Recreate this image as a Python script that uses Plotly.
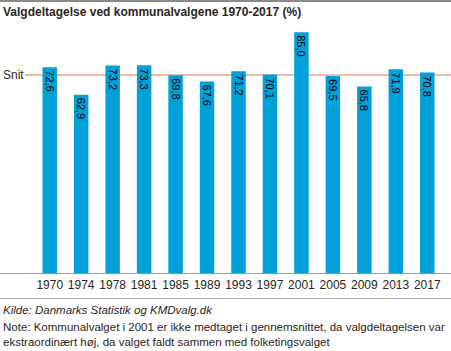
import plotly.graph_objects as go

years = ["1970", "1974", "1978", "1981", "1985", "1989", "1993", "1997", "2001", "2005", "2009", "2013", "2017"]
turnout = [72.6, 62.9, 73.2, 73.3, 69.8, 67.6, 71.2, 70.1, 85.0, 69.5, 65.8, 71.9, 70.8]
snit = 69.9

W, H = 451, 351
ML, MR, MT, MB = 34, 8, 18, 78
PW = W - ML - MR
PH = H - MT - MB

def px_x(x):
    return (x - ML) / PW

def px_y(y):
    return (H - MB - y) / PH

labels = [f"{v:.1f}".replace(".", ",") for v in turnout]
txt = "#2d2520"
font = "Liberation Sans, Arial, sans-serif"

fig = go.Figure(go.Bar(
    x=years, y=turnout, text=labels,
    marker=dict(color="#00a0d8", line=dict(width=0)),
    textposition="inside", insidetextanchor="end", textangle=90,
    constraintext="none",
    textfont=dict(size=11, color="#000000", family=font),
    hoverinfo="skip",
))

shapes = [
    dict(type="line", xref="paper", yref="paper", x0=px_x(0), x1=px_x(W), y0=px_y(1), y1=px_y(1),
         line=dict(color="#8a8a8a", width=2)),
    dict(type="line", xref="paper", yref="y", x0=px_x(25), x1=px_x(W), y0=snit, y1=snit,
         line=dict(color="#f0a08c", width=1.5), layer="below"),
    dict(type="line", xref="paper", yref="paper", x0=px_x(0), x1=px_x(W), y0=px_y(273.5), y1=px_y(273.5),
         line=dict(color="#9a9a9a", width=1)),
    dict(type="line", xref="paper", yref="paper", x0=px_x(0), x1=px_x(W), y0=px_y(298.5), y1=px_y(298.5),
         line=dict(color="#b0b0b0", width=1)),
]

annotations = [
    dict(text="<b>Valgdeltagelse ved kommunalvalgene 1970-2017 (%)</b>", xref="paper", yref="paper",
         x=px_x(1), y=px_y(12), xanchor="left", yanchor="middle", showarrow=False,
         font=dict(size=12, color=txt, family=font)),
    dict(text="Snit", xref="paper", yref="y", x=px_x(1), y=snit, xanchor="left", yanchor="middle",
         showarrow=False, font=dict(size=12, color=txt, family=font)),
    dict(text="<i>Kilde: Danmarks Statistik og KMDvalg.dk</i>", xref="paper", yref="paper",
         x=px_x(1), y=px_y(310), xanchor="left", yanchor="middle", showarrow=False,
         font=dict(size=11.5, color=txt, family=font)),
    dict(text="Note: Kommunalvalget i 2001 er ikke medtaget i gennemsnittet, da valgdeltagelsen var<br>"
              "ekstraordinært høj, da valget faldt sammen med folketingsvalget",
         xref="paper", yref="paper", x=px_x(1), y=px_y(334), xanchor="left", yanchor="middle",
         align="left", showarrow=False, font=dict(size=11.5, color=txt, family=font)),
]

fig.update_layout(
    width=W, height=H, margin=dict(l=ML, r=MR, t=MT, b=MB),
    paper_bgcolor="white", plot_bgcolor="white",
    bargap=0.54, showlegend=False,
    shapes=shapes, annotations=annotations,
    xaxis=dict(showgrid=False, zeroline=False, showline=False, ticks="",
               ticklabelstandoff=3,
               tickfont=dict(size=12, color=txt, family=font), fixedrange=True),
    yaxis=dict(range=[0, 90], showgrid=False, zeroline=False, showline=False,
               showticklabels=False, ticks="", fixedrange=True),
)

fig.write_html("out.html", config=dict(displayModeBar=False))
